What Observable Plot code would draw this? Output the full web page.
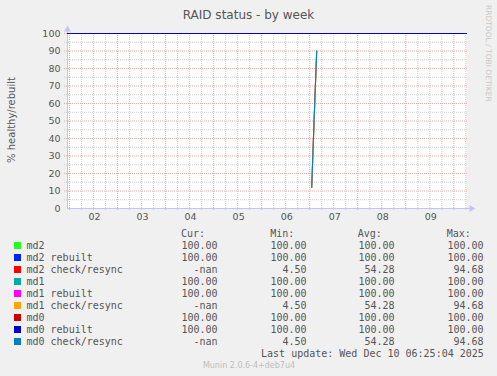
<!DOCTYPE html>
<html><head><meta charset="utf-8">
<script src="https://cdn.jsdelivr.net/npm/d3@7"></script>
<script src="https://cdn.jsdelivr.net/npm/@observablehq/plot@0.6"></script>
<style>
html,body{margin:0;padding:0;background:#f0f0f0;}
#wrap{position:relative;width:497px;height:376px;overflow:hidden;}
</style></head><body><div id="wrap"></div>
<script>
// ---- data ----
const series = ["md2","md2 rebuilt","md2 check/resync","md1","md1 rebuilt","md1 check/resync","md0","md0 rebuilt","md0 check/resync"];
const palette = ["#22ff22","#0022ff","#ff0000","#00aaaa","#ff00ff","#ffa500","#cc0000","#0000cc","#0080c0"];
const curVals = ["100.00","100.00","-nan","100.00","100.00","-nan","100.00","100.00","-nan"];
const minVals = ["100.00","100.00","4.50","100.00","100.00","4.50","100.00","100.00","4.50"];
const avgVals = ["100.00","100.00","54.28","100.00","100.00","54.28","100.00","100.00","54.28"];
const maxVals = ["100.00","100.00","94.68","100.00","100.00","94.68","100.00","100.00","94.68"];
const healthyTimes = ["2025-12-01T23:00Z","2025-12-10T06:20Z"];
const healthyValues = [100, 100];
const resyncTimes = ["2025-12-07T01:00Z","2025-12-07T02:30Z","2025-12-07T03:30Z"];
const resyncValues = [12, 60, 90];
const dayLabels = ["02","03","04","05","06","07","08","09"];
const yTicks = [0,10,20,30,40,50,60,70,80,90,100];
const title = "RAID status - by week";
const yLabel = "% healthy/rebuilt";
const lastUpdate = "Last update: Wed Dec 10 06:25:04 2025";
const footer = "Munin 2.0.6-4+deb7u4";
const sideText = "RRDTOOL / TOBI OETIKER";

// ---- build rows ----
const rows = [];
series.forEach(name => {
  const resync = name.endsWith("check/resync");
  const ts = resync ? resyncTimes : healthyTimes;
  const vs = resync ? resyncValues : healthyValues;
  ts.forEach((t, j) => rows.push({series: name, t: new Date(t), v: vs[j]}));
});

const start = new Date(healthyTimes[0]);
const end = new Date(healthyTimes[healthyTimes.length - 1]);
const majorX = d3.utcDay.range(new Date("2025-12-02T00:00Z"), end);
const minorX = d3.utcHour.every(6).range(new Date("2025-12-02T00:00Z"), end).filter(d => d.getUTCHours() !== 0);
const labelX = dayLabels.map(d => new Date(`2025-12-${d}T12:00Z`));

const gridMinor = "#cfcfcf", gridMajor = "#f0a8a8", axisCol = "#c4c4f4", textCol = "#555";

const chart = Plot.plot({
  width: 497, height: 376,
  marginLeft: 67, marginRight: 31, marginTop: 33, marginBottom: 168,
  style: {background: "#f0f0f0", fontFamily: "DejaVu Sans", fontSize: "9.5px", color: textCol},
  x: {type: "utc", domain: [start, end]},
  y: {domain: [0, 100]},
  color: {domain: series, range: palette},
  marks: [
    Plot.frame({fill: "white", stroke: null}),
    Plot.ruleY(d3.range(5, 100, 10), {stroke: gridMinor, strokeDasharray: "1,1", insetLeft: -3, insetRight: -2}),
    Plot.ruleX(minorX, {stroke: gridMinor, strokeDasharray: "1,1", insetBottom: -2}),
    Plot.ruleY(d3.range(10, 101, 10), {stroke: gridMajor, strokeDasharray: "1,1", insetLeft: -3, insetRight: -2}),
    Plot.ruleX(majorX, {stroke: gridMajor, strokeDasharray: "1,1", insetBottom: -3}),
    Plot.ruleY([0], {stroke: axisCol, insetRight: -4}),
    Plot.ruleX([start], {stroke: axisCol, insetTop: -4}),
    Plot.dot([{t: start, v: 100}], {x: "t", y: "v", symbol: "triangle", r: 2.6, fill: axisCol, stroke: null, dy: -4}),
    Plot.dot([{t: end, v: 0}], {x: "t", y: "v", symbol: "triangle", r: 2.6, fill: axisCol, stroke: null, rotate: 90, dx: 5}),
    Plot.line(rows, {x: "t", y: "v", z: "series", stroke: "series", strokeWidth: 1.1}),
    Plot.axisY({ticks: yTicks, tickSize: 0, tickPadding: 7, label: null, fill: textCol}),
    Plot.axisX({ticks: labelX, tickFormat: d => d3.utcFormat("%d")(d), tickSize: 0, tickPadding: 5, dx: 1, label: null, fill: textCol})
  ]
});
document.getElementById("wrap").appendChild(chart);

// ---- texts & legend ----
const svg = d3.select(chart);
svg.append("text").attr("x", 248.5).attr("y", 18.5).attr("text-anchor", "middle")
  .attr("font-family", "DejaVu Sans").attr("font-size", 12).attr("fill", textCol).text(title);
svg.append("text").attr("transform", "translate(14.5,120) rotate(-90)").attr("text-anchor", "middle")
  .attr("font-family", "DejaVu Sans").attr("font-size", 10).attr("fill", textCol).text(yLabel);
svg.append("text").attr("transform", "translate(485.5,5) rotate(90)").attr("text-anchor", "start")
  .attr("font-family", "DejaVu Sans").attr("font-size", 7.5).attr("fill", "#c8c8c8").text(sideText);

const mono = "DejaVu Sans Mono";
const lg = svg.append("g").attr("font-family", mono).attr("font-size", 10).attr("fill", textCol).attr("text-anchor", "start");
const hdr = [["Cur:", 181], ["Min:", 270.3], ["Avg:", 357.8], ["Max:", 446.8]];
hdr.forEach(([s, x]) => lg.append("text").attr("x", x).attr("y", 236.7).attr("text-anchor", "start").text(s));
const cols = [[curVals, 217.5], [minVals, 306.5], [avgVals, 394.5], [maxVals, 483.5]];
series.forEach((name, i) => {
  const y = 248.7 + 12 * i;
  lg.append("rect").attr("x", 14).attr("y", y - 6.5).attr("width", 6.5).attr("height", 6.5)
    .attr("fill", palette[i]).attr("shape-rendering", "crispEdges");
  lg.append("text").attr("x", 26.5).attr("y", y).attr("text-anchor", "start").text(name);
  cols.forEach(([arr, x]) => lg.append("text").attr("x", x).attr("y", y).attr("text-anchor", "end").text(arr[i]));
});
lg.append("text").attr("x", 483.8).attr("y", 356.7).attr("text-anchor", "end").text(lastUpdate);
svg.append("text").attr("x", 249).attr("y", 367.5).attr("text-anchor", "middle")
  .attr("font-family", "DejaVu Sans").attr("font-size", 8).attr("fill", "#bdbdbd").text(footer);
</script></body></html>
